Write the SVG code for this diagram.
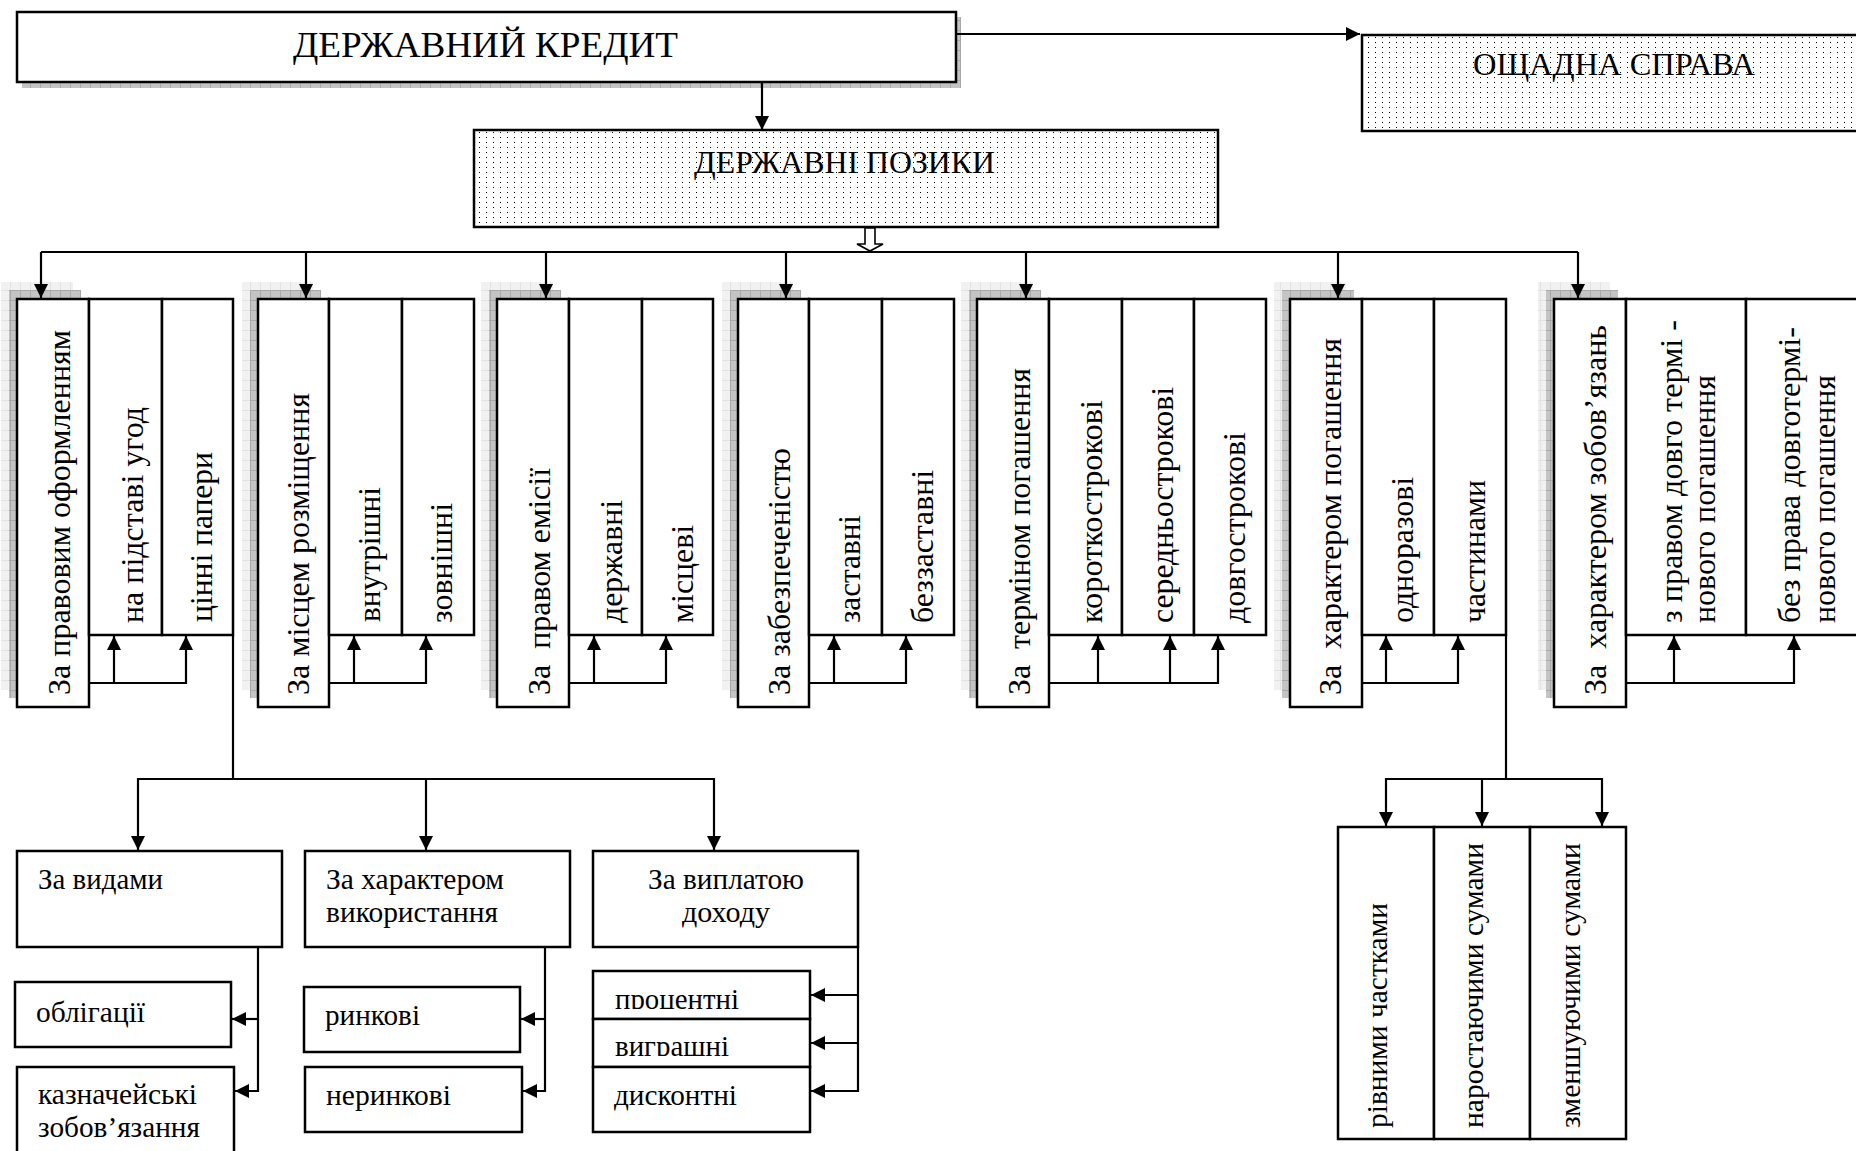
<svg xmlns="http://www.w3.org/2000/svg" width="1856" height="1151" viewBox="0 0 1856 1151">
<style>
.box{fill:#fff;stroke:#000;stroke-width:2.5}
.dotbox{fill:url(#dots);stroke:#000;stroke-width:2.5}
.sh1{fill:url(#shLight)}
.sh2{fill:url(#shDark)}
.t{font-family:"Liberation Serif","Times New Roman",serif;fill:#000;white-space:pre}
.f36{font-size:36px}
.f32{font-size:32px}
.f30{font-size:30px}
.f29{font-size:29px}
.ln{fill:none;stroke:#000;stroke-width:2.2}
.ar{fill:none;stroke:#000;stroke-width:2.2;marker-end:url(#ah)}
</style>
<defs>
<marker id="ah" viewBox="0 0 14 14" refX="14" refY="7" markerWidth="14" markerHeight="15" orient="auto" markerUnits="userSpaceOnUse">
<path d="M0,0 L14,7 L0,14 Z" fill="#000"/>
</marker>
<pattern id="dots" width="7" height="5" patternUnits="userSpaceOnUse">
<rect width="7" height="5" fill="#fff"/>
<rect x="3" y="2" width="1" height="1" fill="#000"/>
</pattern>
<pattern id="shDark" width="10" height="10" patternUnits="userSpaceOnUse">
<rect width="10" height="10" fill="#c4c4c4"/>
<path d="M0,0.5 H10 M0.5,0 V10" stroke="#a8a8a8" stroke-width="1"/>
</pattern>
<pattern id="shLight" width="10" height="10" patternUnits="userSpaceOnUse">
<rect width="10" height="10" fill="#f1f1f1"/>
<path d="M0,0.5 H10 M0.5,0 V10" stroke="#e2e2e2" stroke-width="1"/>
</pattern>
<clipPath id="clipProc"><rect x="593" y="971" width="217" height="38"/></clipPath>
<clipPath id="clipVygr"><rect x="593" y="1019" width="217" height="37"/></clipPath>
</defs>

<g id="n-credit">
<rect class="sh2" x="22" y="17" width="939" height="71"/>
<rect class="box" x="17" y="12" width="939" height="70"/>
<text class="t f36" x="293" y="57" textLength="385" lengthAdjust="spacingAndGlyphs">ДЕРЖАВНИЙ КРЕДИТ</text>
</g>

<g id="n-loans">
<rect class="dotbox" x="474" y="130" width="744" height="97"/>
<text class="t f32" x="694" y="173" textLength="301" lengthAdjust="spacingAndGlyphs">ДЕРЖАВНІ ПОЗИКИ</text>
</g>

<g id="n-savings">
<rect class="dotbox" x="1362" y="35" width="510" height="96"/>
<text class="t f32" x="1473" y="75" textLength="282" lengthAdjust="spacingAndGlyphs">ОЩАДНА СПРАВА</text>
</g>

<g id="g1-legal">
<rect class="sh1" x="1" y="282" width="72" height="408"/>
<rect class="sh2" x="9" y="290" width="72" height="408"/>
<rect class="box" x="17" y="299" width="72" height="408"/>
<rect class="box" x="89" y="299" width="73" height="336"/>
<rect class="box" x="162" y="299" width="71" height="336"/>
<text class="t f32" transform="translate(70,695) rotate(-90)" textLength="365" lengthAdjust="spacingAndGlyphs">За правовим оформленням</text>
<text class="t f32" transform="translate(143,623) rotate(-90)" textLength="216" lengthAdjust="spacingAndGlyphs">на підставі угод</text>
<text class="t f32" transform="translate(212,622) rotate(-90)" textLength="170" lengthAdjust="spacingAndGlyphs">цінні папери</text>
</g>

<g id="g2-place">
<rect class="sh1" x="242" y="282" width="71" height="408"/>
<rect class="sh2" x="250" y="290" width="71" height="408"/>
<rect class="box" x="258" y="299" width="71" height="408"/>
<rect class="box" x="329" y="299" width="73" height="336"/>
<rect class="box" x="402" y="299" width="72" height="336"/>
<text class="t f32" transform="translate(309,695) rotate(-90)" textLength="302" lengthAdjust="spacingAndGlyphs">За місцем розміщення</text>
<text class="t f32" transform="translate(380,622) rotate(-90)" textLength="135" lengthAdjust="spacingAndGlyphs">внутрішні</text>
<text class="t f32" transform="translate(452,623) rotate(-90)" textLength="120" lengthAdjust="spacingAndGlyphs">зовнішні</text>
</g>

<g id="g3-emission">
<rect class="sh1" x="481" y="282" width="72" height="408"/>
<rect class="sh2" x="489" y="290" width="72" height="408"/>
<rect class="box" x="497" y="299" width="72" height="408"/>
<rect class="box" x="569" y="299" width="73" height="336"/>
<rect class="box" x="642" y="299" width="71" height="336"/>
<text class="t f32" transform="translate(550,695) rotate(-90)" textLength="227" lengthAdjust="spacingAndGlyphs">За  правом емісії</text>
<text class="t f32" transform="translate(622,623) rotate(-90)" textLength="123" lengthAdjust="spacingAndGlyphs">державні</text>
<text class="t f32" transform="translate(693,623) rotate(-90)" textLength="98" lengthAdjust="spacingAndGlyphs">місцеві</text>
</g>

<g id="g4-security">
<rect class="sh1" x="722" y="282" width="71" height="408"/>
<rect class="sh2" x="730" y="290" width="71" height="408"/>
<rect class="box" x="738" y="299" width="71" height="408"/>
<rect class="box" x="809" y="299" width="73" height="336"/>
<rect class="box" x="882" y="299" width="72" height="336"/>
<text class="t f32" transform="translate(790,695) rotate(-90)" textLength="247" lengthAdjust="spacingAndGlyphs">За забезпеченістю</text>
<text class="t f32" transform="translate(860,623) rotate(-90)" textLength="108" lengthAdjust="spacingAndGlyphs">заставні</text>
<text class="t f32" transform="translate(933,623) rotate(-90)" textLength="153" lengthAdjust="spacingAndGlyphs">беззаставні</text>
</g>

<g id="g5-term">
<rect class="sh1" x="961" y="282" width="72" height="408"/>
<rect class="sh2" x="969" y="290" width="72" height="408"/>
<rect class="box" x="977" y="299" width="72" height="408"/>
<rect class="box" x="1049" y="299" width="73" height="336"/>
<rect class="box" x="1122" y="299" width="72" height="336"/>
<rect class="box" x="1194" y="299" width="72" height="336"/>
<text class="t f32" transform="translate(1030,695) rotate(-90)" textLength="327" lengthAdjust="spacingAndGlyphs">За  терміном погашення</text>
<text class="t f32" transform="translate(1102,623) rotate(-90)" textLength="223" lengthAdjust="spacingAndGlyphs">короткострокові</text>
<text class="t f32" transform="translate(1173,623) rotate(-90)" textLength="236" lengthAdjust="spacingAndGlyphs">середньострокові</text>
<text class="t f32" transform="translate(1245,623) rotate(-90)" textLength="191" lengthAdjust="spacingAndGlyphs">довгострокові</text>
</g>

<g id="g6-repayment">
<rect class="sh1" x="1274" y="282" width="72" height="408"/>
<rect class="sh2" x="1282" y="290" width="72" height="408"/>
<rect class="box" x="1290" y="299" width="72" height="408"/>
<rect class="box" x="1362" y="299" width="72" height="336"/>
<rect class="box" x="1434" y="299" width="72" height="336"/>
<text class="t f32" transform="translate(1341,695) rotate(-90)" textLength="357" lengthAdjust="spacingAndGlyphs">За  характером погашення</text>
<text class="t f32" transform="translate(1413,623) rotate(-90)" textLength="146" lengthAdjust="spacingAndGlyphs">одноразові</text>
<text class="t f32" transform="translate(1485,623) rotate(-90)" textLength="143" lengthAdjust="spacingAndGlyphs">частинами</text>
</g>

<g id="g7-obligations">
<rect class="sh1" x="1538" y="282" width="72" height="408"/>
<rect class="sh2" x="1546" y="290" width="72" height="408"/>
<rect class="box" x="1554" y="299" width="72" height="408"/>
<rect class="box" x="1626" y="299" width="120" height="336"/>
<rect class="box" x="1746" y="299" width="120" height="336"/>
<text class="t f32" transform="translate(1606,695) rotate(-90)" textLength="370" lengthAdjust="spacingAndGlyphs">За  характером зобов’язань</text>
<text class="t f32" transform="translate(1682,623) rotate(-90)" textLength="303" lengthAdjust="spacingAndGlyphs">з правом довго термі -</text>
<text class="t f32" transform="translate(1715,623) rotate(-90)" textLength="248" lengthAdjust="spacingAndGlyphs">нового погашення</text>
<text class="t f32" transform="translate(1800,623) rotate(-90)" textLength="296" lengthAdjust="spacingAndGlyphs">без права довготермі-</text>
<text class="t f32" transform="translate(1835,623) rotate(-90)" textLength="248" lengthAdjust="spacingAndGlyphs">нового погашення</text>
</g>

<g id="n-types">
<rect class="box" x="17" y="851" width="265" height="96"/>
<text class="t f29" x="38" y="889" textLength="125" lengthAdjust="spacingAndGlyphs">За видами</text>
</g>
<g id="n-usage">
<rect class="box" x="305" y="851" width="265" height="96"/>
<text class="t f29" x="326" y="889" textLength="178" lengthAdjust="spacingAndGlyphs">За характером</text>
<text class="t f29" x="326" y="922" textLength="172" lengthAdjust="spacingAndGlyphs">використання</text>
</g>
<g id="n-income">
<rect class="box" x="593" y="851" width="265" height="96"/>
<text class="t f29" x="648" y="889" textLength="156" lengthAdjust="spacingAndGlyphs">За виплатою</text>
<text class="t f29" x="682" y="922" textLength="88" lengthAdjust="spacingAndGlyphs">доходу</text>
</g>
<g id="n-bonds">
<rect class="box" x="15" y="982" width="216" height="65"/>
<text class="t f29" x="36" y="1022" textLength="109" lengthAdjust="spacingAndGlyphs">облігації</text>
</g>
<g id="n-treasury">
<rect class="box" x="17" y="1067" width="217" height="95"/>
<text class="t f29" x="38" y="1104" textLength="159" lengthAdjust="spacingAndGlyphs">казначейські</text>
<text class="t f29" x="38" y="1137" textLength="162" lengthAdjust="spacingAndGlyphs">зобов’язання</text>
</g>
<g id="n-market">
<rect class="box" x="304" y="987" width="216" height="65"/>
<text class="t f29" x="325" y="1025" textLength="95" lengthAdjust="spacingAndGlyphs">ринкові</text>
</g>
<g id="n-nonmarket">
<rect class="box" x="305" y="1067" width="217" height="65"/>
<text class="t f29" x="326" y="1105" textLength="125" lengthAdjust="spacingAndGlyphs">неринкові</text>
</g>
<g id="n-interest">
<rect class="box" x="593" y="971" width="217" height="48"/>
<text class="t f29" x="615" y="1009" textLength="124" lengthAdjust="spacingAndGlyphs" clip-path="url(#clipProc)">процентні</text>
</g>
<g id="n-lottery">
<rect class="box" x="593" y="1019" width="217" height="48"/>
<text class="t f29" x="615" y="1056" textLength="114" lengthAdjust="spacingAndGlyphs" clip-path="url(#clipVygr)">виграшні</text>
</g>
<g id="n-discount">
<rect class="box" x="593" y="1067" width="217" height="65"/>
<text class="t f29" x="614" y="1105" textLength="123" lengthAdjust="spacingAndGlyphs">дисконтні</text>
</g>

<g id="n-equal">
<rect class="box" x="1338" y="827" width="96" height="312"/>
<text class="t f30" transform="translate(1387,1128) rotate(-90)" textLength="225" lengthAdjust="spacingAndGlyphs">рівними частками</text>
</g>
<g id="n-increasing">
<rect class="box" x="1434" y="827" width="96" height="312"/>
<text class="t f30" transform="translate(1483,1128) rotate(-90)" textLength="285" lengthAdjust="spacingAndGlyphs">наростаючими сумами</text>
</g>
<g id="n-decreasing">
<rect class="box" x="1530" y="827" width="96" height="312"/>
<text class="t f30" transform="translate(1580,1128) rotate(-90)" textLength="285" lengthAdjust="spacingAndGlyphs">зменшуючими сумами</text>
</g>

<g id="connectors">
<path class="ar" d="M956,34 H1360"/>
<path class="ar" d="M762,83 V130"/>
<path d="M865,228 V244 H857 L870,251 L883,244 H875 V228 Z" fill="#fff" stroke="#000" stroke-width="1.6"/>
<path class="ln" d="M41,252 H1578"/>
<path class="ar" d="M41,252 V298"/>
<path class="ar" d="M306,252 V298"/>
<path class="ar" d="M546,252 V298"/>
<path class="ar" d="M786,252 V298"/>
<path class="ar" d="M1026,252 V298"/>
<path class="ar" d="M1338,252 V298"/>
<path class="ar" d="M1578,252 V298"/>
<path class="ar" d="M89,683 H186 V636"/>
<path class="ar" d="M114,683 V636"/>
<path class="ar" d="M329,683 H426 V636"/>
<path class="ar" d="M354,683 V636"/>
<path class="ar" d="M569,683 H666 V636"/>
<path class="ar" d="M594,683 V636"/>
<path class="ar" d="M809,683 H906 V636"/>
<path class="ar" d="M834,683 V636"/>
<path class="ar" d="M1049,683 H1218 V636"/>
<path class="ar" d="M1098,683 V636"/>
<path class="ar" d="M1170,683 V636"/>
<path class="ar" d="M1362,683 H1458 V636"/>
<path class="ar" d="M1386,683 V636"/>
<path class="ar" d="M1626,683 H1794 V636"/>
<path class="ar" d="M1674,683 V636"/>
<path class="ln" d="M233,635 V779"/>
<path class="ar" d="M234,779 H138 V850"/>
<path class="ar" d="M234,779 H714 V850"/>
<path class="ar" d="M426,779 V850"/>
<path class="ar" d="M258,947 V1091 H235"/>
<path class="ar" d="M258,1019 H232"/>
<path class="ar" d="M545,947 V1091 H523"/>
<path class="ar" d="M545,1019 H521"/>
<path class="ar" d="M858,947 V1091 H811"/>
<path class="ar" d="M858,995 H811"/>
<path class="ar" d="M858,1043 H811"/>
<path class="ln" d="M1506,635 V779"/>
<path class="ar" d="M1507,779 H1386 V826"/>
<path class="ar" d="M1507,779 H1602 V826"/>
<path class="ar" d="M1482,779 V826"/>
</g>
</svg>
